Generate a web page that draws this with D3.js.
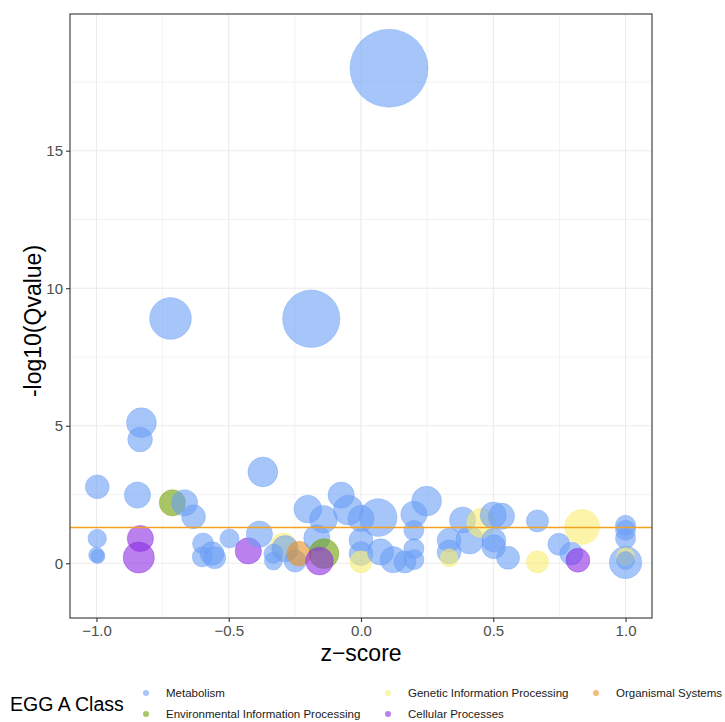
<!DOCTYPE html>
<html>
<head>
<meta charset="utf-8">
<script src="https://cdn.jsdelivr.net/npm/d3@7"></script>
<style>
  body { margin: 0; background: #fff; }
  text { font-family: "Liberation Sans", Arial, sans-serif; }
</style>
</head>
<body>
<script>
// pathway classes, in legend order (row by row)
var classNames = ["Metabolism", "Genetic Information Processing", "Organismal Systems",
                  "Environmental Information Processing", "Cellular Processes"];
var classColors = ["#6a9ef5", "#f8ec70", "#e89020", "#70a000", "#8a2be2"];

// one entry per enriched pathway (0 = Metabolism ... see classNames)
var zScore = [0.106, -0.188, -0.72, -0.83, -0.835, -0.997, -0.371, -0.845, -0.713, -0.667,
  -0.633, -0.997, -1.0, -0.995, -0.834, -0.84, -0.597, -0.6, -0.563, -0.553,
  -0.497, -0.426, -0.384, -0.293, -0.287, -0.331, -0.331, -0.249, -0.234, -0.201,
  -0.142, -0.075, -0.048, -0.167, -0.14, -0.157, 0.0, 0.0, 0.0, 0.0,
  0.065, 0.074, 0.122, 0.166, 0.2, 0.248, 0.2, 0.2, 0.2, 0.333,
  0.333, 0.333, 0.384, 0.411, 0.455, 0.5, 0.531, 0.502, 0.502, 0.556,
  0.667, 0.667, 0.836, 0.748, 0.795, 0.82, 1.0, 1.0, 1.0, 1.0,
  1.0, 1.0];
var negLogQ = [18.0, 8.89, 8.9, 5.11, 4.5, 2.78, 3.32, 2.48, 2.2, 2.2,
  1.69, 0.9, 0.3, 0.25, 0.9, 0.21, 0.72, 0.23, 0.35, 0.2,
  0.9, 0.45, 1.06, 0.62, 0.53, 0.35, 0.08, 0.08, 0.35, 1.97,
  1.6, 2.48, 1.93, 0.92, 0.35, 0.08, 1.63, 0.84, 0.35, 0.05,
  1.66, 0.41, 0.13, 0.05, 1.78, 2.26, 1.2, 0.53, 0.13, 0.84,
  0.41, 0.2, 1.57, 0.84, 1.47, 1.75, 1.71, 0.84, 0.6, 0.2,
  1.54, 0.05, 1.32, 0.69, 0.35, 0.11, 1.38, 1.2, 0.9, 0.03,
  0.25, 0.1];
var geneCount = [150, 81, 43, 22, 15, 14, 22, 17, 17, 17,
  14, 8.5, 6, 5, 17, 24, 11, 10, 14, 12,
  9, 17, 17, 17, 17, 9, 8, 12, 15, 19,
  19, 17, 22, 17, 22, 19, 17, 14, 14, 12,
  35, 17, 17, 12, 17, 22, 10, 10, 10, 14,
  14, 8, 17, 19, 21, 17, 17, 14, 14, 13,
  12, 12, 30, 12, 13, 14, 10, 10, 10, 26,
  8, 8];
var pathClass = [0, 0, 0, 0, 0, 0, 0, 0, 3, 0,
  0, 0, 0, 0, 4, 4, 0, 0, 0, 0,
  0, 4, 0, 1, 0, 0, 0, 0, 2, 0,
  0, 0, 0, 0, 3, 4, 0, 0, 0, 1,
  0, 0, 0, 0, 0, 0, 0, 0, 0, 0,
  0, 1, 0, 0, 1, 0, 0, 0, 0, 0,
  0, 1, 1, 0, 0, 4, 0, 0, 0, 0,
  1, 0];

var xTicks = [-1.0, -0.5, 0.0, 0.5, 1.0];
var yTicks = [0, 5, 10, 15];
var qCutoff = -Math.log10(0.05);

var width = 725, height = 722;
var panel = {left: 70, right: 652, top: 14, bottom: 618};

var svg = d3.select("body").append("svg")
    .attr("width", width)
    .attr("height", height);

svg.append("rect").attr("width", width).attr("height", height).attr("fill", "#fff");

var x = d3.scaleLinear().domain([-1.1, 1.1]).range([panel.left, panel.right]);
var y = d3.scaleLinear().domain([-1.99, 19.97]).range([panel.bottom, panel.top]);
var r = d3.scaleSqrt().domain([0, 150]).range([0, 39]);
var minus = function(v) { return d3.format(".1f")(v).replace("-", "\u2212"); };

// grid (minor first, then major)
var g = svg.append("g");
var xMinor = [-0.75, -0.25, 0.25, 0.75], yMinor = [2.5, 7.5, 12.5, 17.5];
g.selectAll(".xminor").data(xMinor).enter().append("line")
    .attr("x1", x).attr("x2", x).attr("y1", panel.top).attr("y2", panel.bottom)
    .attr("stroke", "#ebebeb").attr("stroke-width", 0.6);
g.selectAll(".yminor").data(yMinor).enter().append("line")
    .attr("y1", y).attr("y2", y).attr("x1", panel.left).attr("x2", panel.right)
    .attr("stroke", "#ebebeb").attr("stroke-width", 0.6);
g.selectAll(".xmajor").data(xTicks).enter().append("line")
    .attr("x1", x).attr("x2", x).attr("y1", panel.top).attr("y2", panel.bottom)
    .attr("stroke", "#ebebeb").attr("stroke-width", 1.1);
g.selectAll(".ymajor").data(yTicks).enter().append("line")
    .attr("y1", y).attr("y2", y).attr("x1", panel.left).attr("x2", panel.right)
    .attr("stroke", "#ebebeb").attr("stroke-width", 1.1);

// bubbles
svg.append("clipPath").attr("id", "clip").append("rect")
    .attr("x", panel.left).attr("y", panel.top)
    .attr("width", panel.right - panel.left).attr("height", panel.bottom - panel.top);

svg.append("g").attr("clip-path", "url(#clip)")
  .selectAll("circle")
  .data(d3.range(zScore.length))
  .enter().append("circle")
    .attr("cx", function(i) { return x(zScore[i]); })
    .attr("cy", function(i) { return y(negLogQ[i]); })
    .attr("r", function(i) { return r(geneCount[i]); })
    .attr("fill", function(i) { return classColors[pathClass[i]]; })
    .attr("fill-opacity", 0.6)
    .attr("stroke", function(i) { return classColors[pathClass[i]]; })
    .attr("stroke-opacity", 0.35)
    .attr("stroke-width", 1);

// significance line (q = 0.05), drawn over the bubbles
svg.append("line")
    .attr("x1", panel.left).attr("x2", panel.right)
    .attr("y1", y(qCutoff)).attr("y2", y(qCutoff))
    .style("stroke", "#f2a122").style("stroke-width", "1.5px");

// panel border
svg.append("rect")
    .attr("x", panel.left).attr("y", panel.top)
    .attr("width", panel.right - panel.left).attr("height", panel.bottom - panel.top)
    .attr("fill", "none").attr("stroke", "#333").attr("stroke-width", 1.1);

// axes
var xAxis = svg.append("g")
    .attr("transform", "translate(0," + panel.bottom + ")")
    .call(d3.axisBottom(x).tickValues(xTicks).tickSize(4).tickPadding(3).tickFormat(minus));
var yAxis = svg.append("g")
    .attr("transform", "translate(" + panel.left + ",0)")
    .call(d3.axisLeft(y).tickValues(yTicks).tickSize(4).tickPadding(3).tickFormat(d3.format("d")));
[xAxis, yAxis].forEach(function(a) {
  a.select(".domain").remove();
  a.selectAll(".tick line").attr("stroke", "#333").attr("stroke-width", 1.1);
  a.selectAll(".tick text").attr("fill", "#4d4d4d").style("font-size", "15px")
    .style("font-family", "'Liberation Sans', Arial, sans-serif");
});

svg.append("text")
    .attr("x", (panel.left + panel.right) / 2).attr("y", 661)
    .attr("text-anchor", "middle").style("font-size", "23px")
    .text("z\u2212score");
svg.append("text")
    .attr("transform", "translate(41," + ((panel.top + panel.bottom) / 2 + 5) + ") rotate(-90)")
    .attr("text-anchor", "middle").style("font-size", "23px")
    .text("-log10(Qvalue)");

// legend
svg.append("text").attr("x", 10).attr("y", 711)
    .style("font-size", "19.5px").text("EGG A Class");
var legX = [146, 388, 596, 146, 388], legY = [693, 693, 693, 714, 714];
var leg = svg.selectAll(".leg").data(classNames).enter().append("g")
    .attr("transform", function(d, i) { return "translate(" + legX[i] + "," + legY[i] + ")"; });
leg.append("circle").attr("r", 3)
    .attr("fill", function(d, i) { return classColors[i]; }).attr("fill-opacity", 0.6);
leg.append("text").attr("x", 20).attr("dy", "0.35em")
    .style("font-size", "11.5px").attr("fill", "#1a1a1a")
    .text(function(d) { return d; });
</script>
</body>
</html>
